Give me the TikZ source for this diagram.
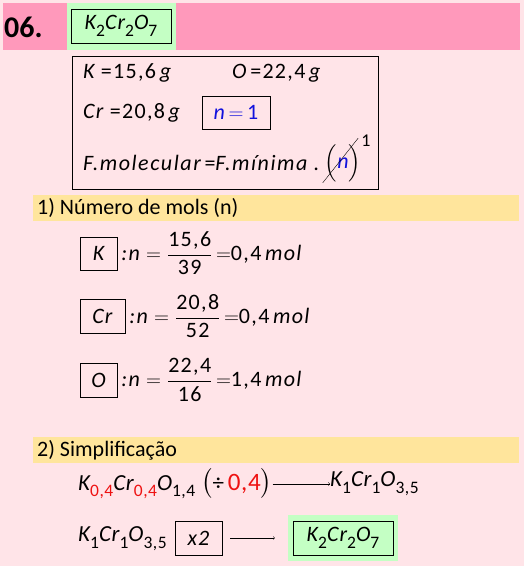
\documentclass[tikz,border=0pt]{standalone}
\usepackage{amsmath}
\usepackage{fontspec}
\setmainfont{Carlito}
\usetikzlibrary{positioning}
\definecolor{bgpink}{HTML}{FFE4E8}
\definecolor{hdrpink}{HTML}{FF99BB}
\definecolor{formgreen}{HTML}{C4FFC4}
\definecolor{bandyellow}{HTML}{FFE59C}
\definecolor{mred}{HTML}{EE1111}
\definecolor{mblue}{HTML}{1111DD}
\newcommand{\sbt}[1]{\raisebox{-0.3em}{\fontsize{17.5}{17.5}\selectfont\upshape #1}}
\newcommand{\frc}[2]{$\dfrac{\mbox{\upshape #1}}{\mbox{\upshape #2}}$}
\newcommand{\dcr}{\itshape K\sbt{2}Cr\sbt{2}O\sbt{7}}

\begin{document}
\begin{tikzpicture}[x=1pt,y=-1pt,
  txt/.style={font=\fontsize{22}{26}\selectfont\addfontfeatures{LetterSpace=6}\itshape, inner sep=0pt, anchor=west},
  rowtxt/.style={font=\fontsize{23}{27}\selectfont\addfontfeatures{LetterSpace=3}\itshape, inner sep=0pt, anchor=west},
  hdtxt/.style={font=\fontsize{22}{26}\selectfont, inner sep=0pt, anchor=west},
  elbox/.style={draw, thin, inner sep=0pt, font=\fontsize{22}{26}\selectfont\addfontfeatures{LetterSpace=5}\itshape}]
\fill[bgpink] (0,0) rectangle (524,566);
\useasboundingbox (0,0) rectangle (524,566);
% title
\fill[hdrpink] (3,3) rectangle (520,50);
\fill[formgreen] (67,3) rectangle (176,50);
\node[font=\fontsize{30}{30}\selectfont\bfseries, inner sep=0pt, anchor=west] (num) at (4,27) {06.};
\node[elbox, minimum width=100pt, minimum height=34pt] (title) at (121,26) {\dcr};
% data
\node[draw, thin, minimum width=306pt, minimum height=133pt, inner sep=0pt] (data) at (225,122.5) {};
\node[txt] (mk) at (83,73) {K \upshape=15,6\,\itshape g};
\node[txt] (mo) at (232,73) {O\,\upshape=22,4\,\itshape g};
\node[txt] (mcr) at (83,113) {Cr \upshape=20,8\,\itshape g};
\node[elbox, text=mblue, minimum width=68pt, minimum height=33pt] (nbox) at (236,112.5) {n\,\upshape$=$\,1};
\node[txt, font=\fontsize{22}{26}\selectfont\addfontfeatures{LetterSpace=7}\itshape] (fmol) at (83,163) {F.molecular\,\upshape=\itshape F.mínima .};
\node[txt, right=5pt of fmol] (npar) {\upshape$\Big($\textcolor{mblue}{\itshape n}$\Big)$};
\node[hdtxt, font=\fontsize{18}{20}\selectfont, anchor=south west] (one) at ([yshift=-3pt]npar.north east) {1};
\draw[thin] ([xshift=-2pt,yshift=-1pt]npar.south west) -- ([xshift=-3pt,yshift=6pt]npar.north east);
% numero de mols
\fill[bandyellow] (33,195) rectangle (519,221);
\node[hdtxt] (h1) at (37,208) {1) Número de mols (n)};
\node[elbox, minimum width=37pt, minimum height=33pt] (bk) at (98.5,253.5) {K};
\node[txt, right=4pt of bk] (nk) {:n\;$=$\;\frc{15,6}{39}\,$=$\upshape0,4\,\itshape mol};
\node[elbox, minimum width=45pt, minimum height=34pt] (bcr) at (102.5,316) {Cr};
\node[txt, right=4pt of bcr] (ncr) {:n\;$=$\;\frc{20,8}{52}\,$=$\upshape0,4\,\itshape mol};
\node[elbox, minimum width=37pt, minimum height=34pt] (bo) at (98.5,380) {O};
\node[txt, right=4pt of bo] (no) {:n\;$=$\;\frc{22,4}{16}\,$=$\upshape1,4\,\itshape mol};
% simplificacao
\fill[bandyellow] (33,437) rectangle (519,463);
\node[hdtxt] (h2) at (37,450) {2) Simplificação};
\node[rowtxt] (ra) at (78,484) {K\textcolor{mred}{\sbt{0,4}}Cr\textcolor{mred}{\sbt{0,4}}O\sbt{1,4} \upshape$\big($÷\,{\fontsize{25}{27}\selectfont\textcolor{mred}{0,4}}$\big)$};
\node[rowtxt] (rb) at (330,484) {K\sbt{1}Cr\sbt{1}O\sbt{3,5}};
\draw[->, thin] (ra) -- (rb);
\node[rowtxt] (rc) at (78,539) {K\sbt{1}Cr\sbt{1}O\sbt{3,5}};
\node[elbox, minimum width=47pt, minimum height=34pt] (mult) at (198.5,538) {x2};
\fill[formgreen] (288,515) rectangle (398,561);
\node[elbox, minimum width=100pt, minimum height=34pt] (final) at (343,538) {\dcr};
\draw[->, thin] ([xshift=8pt]mult.east) -- ([xshift=-18pt]final.west);
\end{tikzpicture}
\end{document}
